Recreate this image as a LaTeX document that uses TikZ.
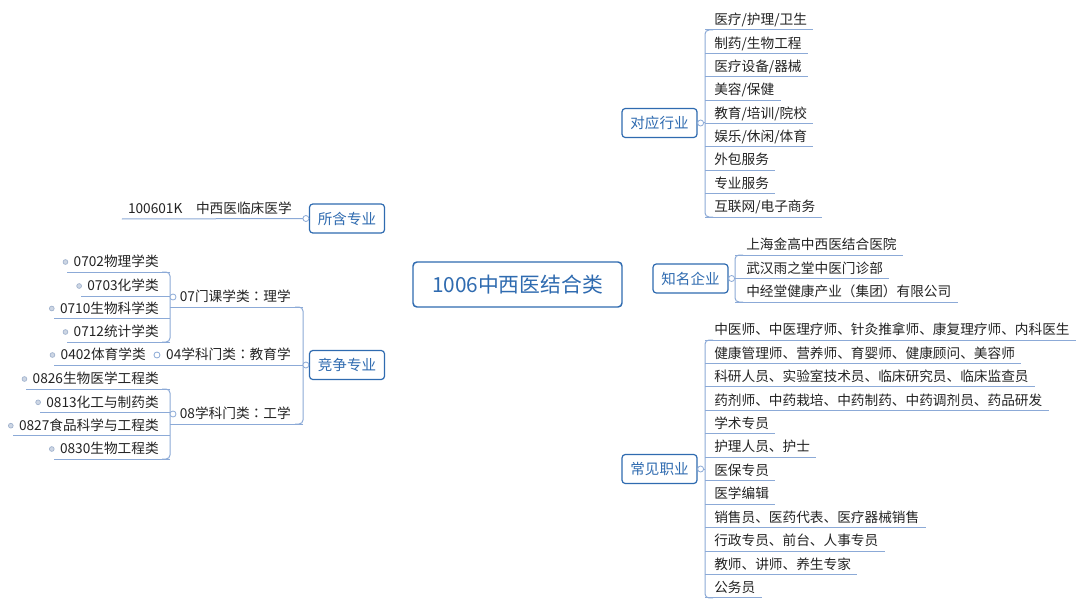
\documentclass[tikz,border=0pt]{standalone}
\usepackage{fontspec}
\setmainfont{Noto Sans CJK SC}
\newfontfamily\tcfont{Noto Sans CJK TC}
\newcommand{\ccolon}{{\tcfont ：}}
\usetikzlibrary{backgrounds,calc}
\definecolor{cblue}{RGB}{47,107,176}
\definecolor{curveblue}{RGB}{95,145,200}
\definecolor{subblue}{RGB}{140,170,215}
\definecolor{leaftext}{RGB}{35,35,35}
\definecolor{bulletfill}{RGB}{205,214,228}
\definecolor{bulletdraw}{RGB}{160,178,205}
\tikzset{
 central/.style={draw=cblue, line width=1.1pt, rounded corners=3pt, fill=white, text=cblue, minimum width=156.75pt, minimum height=33.75pt, font=\fontsize{15.6pt}{18pt}\selectfont, inner sep=0pt},
 branch/.style={draw=cblue, line width=0.9pt, rounded corners=2.5pt, fill=white, text=cblue, minimum width=56.25pt, minimum height=21.75pt, font=\fontsize{10.9pt}{13pt}\selectfont, inner sep=0pt},
 leaf/.style={inner xsep=4.5pt, inner ysep=0pt, text height=7.5pt, text depth=3.75pt, text=leaftext, font=\fontsize{10.25pt}{12pt}\selectfont},
 leafR/.style={leaf, anchor=south west},
 leafL/.style={leaf, anchor=south east},
 conn/.style={draw=subblue, line width=0.75pt},
 maincurve/.style={draw=curveblue, line width=1.1pt},
 knob/.style={circle, draw=subblue, fill=white, line width=0.6pt, minimum size=4.5pt, inner sep=0pt},
 dotbullet/.style={circle, draw=bulletdraw, fill=bulletfill, line width=0.5pt, minimum size=3.6pt, inner sep=0pt},
}
\begin{document}
\begin{tikzpicture}[x=0.75pt,y=-0.75pt]
\fill[white] (0,0) rectangle (1080,606);
\useasboundingbox (0,0) rectangle (1080,606);

% central and branch topics
\node[central] (c) at (517.5,284.5) {1006中西医结合类};
\node[branch] (dy) at (659.5,123) {对应行业};
\node[branch] (zm) at (690.5,278.5) {知名企业};
\node[branch] (cj) at (659.5,469) {常见职业};
\node[branch] (sh) at (347,218.5) {所含专业};
\node[branch] (jz) at (347,365) {竞争专业};

\begin{scope}[on background layer]
\draw[maincurve] (c.center) .. controls (575,180) and (570,123) .. (dy.west);
\draw[maincurve] (c.center) .. controls (575,389) and (570,469) .. (cj.west);
\draw[maincurve] (c.center) -- (zm.west);
\draw[maincurve] (c.center) .. controls (430,245) and (420,218.5) .. (sh.east);
\draw[maincurve] (c.center) .. controls (430,324) and (420,365) .. (jz.east);
\end{scope}

% ---------- 对应行业 ----------
\coordinate (vdy) at (705,0);
\node[leafR] (d1) at (708,30) {医疗/护理/卫生};
\node[leafR] (d2) at (708,53.4) {制药/生物工程};
\node[leafR] (d3) at (708,76.75) {医疗设备/器械};
\node[leafR] (d4) at (708,100.1) {美容/保健};
\node[leafR] (d5) at (708,123.5) {教育/培训/院校};
\node[leafR] (d6) at (708,146.9) {娱乐/休闲/体育};
\node[leafR] (d7) at (708,170.25) {外包服务};
\node[leafR] (d8) at (708,193.6) {专业服务};
\node[leafR] (d9) at (708,217) {互联网/电子商务};
\foreach \i in {1,...,9} \draw[conn] (vdy|-d\i.south) -- (d\i.south east);
\draw[conn, rounded corners=3pt] ($(vdy|-d1.south)+(8,0)$) -- (vdy|-d1.south) -- (vdy|-d9.south) -- ($(vdy|-d9.south)+(8,0)$);
\draw[conn] (dy.east) -- (vdy|-dy.east);
\node[knob] (kdy) at ($(dy.east)+(3,0)$) {};

% ---------- 知名企业 ----------
\coordinate (vzm) at (735,0);
\node[leafR] (e1) at (740,255) {上海金高中西医结合医院};
\node[leafR] (e2) at (740,278.5) {武汉雨之堂中医门诊部};
\node[leafR] (e3) at (740,302) {中经堂健康产业（集团）有限公司};
\foreach \i in {1,...,3} \draw[conn] (vzm|-e\i.south) -- (e\i.south east);
\draw[conn, rounded corners=3pt] ($(vzm|-e1.south)+(8,0)$) -- (vzm|-e1.south) -- (vzm|-e3.south) -- ($(vzm|-e3.south)+(8,0)$);
\draw[conn] (zm.east) -- (vzm|-zm.east);
\node[knob] (kzm) at ($(zm.east)+(3,0)$) {};

% ---------- 常见职业 ----------
\coordinate (vcj) at (705,0);
\node[leafR] (f1) at (708,340) {中医师、中医理疗师、针灸推拿师、康复理疗师、内科医生};
\node[leafR] (f2) at (708,363.45) {健康管理师、营养师、育婴师、健康顾问、美容师};
\node[leafR] (f3) at (708,386.9) {科研人员、实验室技术员、临床研究员、临床监查员};
\node[leafR] (f4) at (708,410.35) {药剂师、中药栽培、中药制药、中药调剂员、药品研发};
\node[leafR] (f5) at (708,433.8) {学术专员};
\node[leafR] (f6) at (708,457.25) {护理人员、护士};
\node[leafR] (f7) at (708,480.7) {医保专员};
\node[leafR] (f8) at (708,504.15) {医学编辑};
\node[leafR] (f9) at (708,527.6) {销售员、医药代表、医疗器械销售};
\node[leafR] (f10) at (708,551.05) {行政专员、前台、人事专员};
\node[leafR] (f11) at (708,574.5) {教师、讲师、养生专家};
\node[leafR] (f12) at (708,597.95) {公务员};
\foreach \i in {1,...,12} \draw[conn] (vcj|-f\i.south) -- (f\i.south east);
\draw[conn, rounded corners=3pt] ($(vcj|-f1.south)+(8,0)$) -- (vcj|-f1.south) -- (vcj|-f12.south) -- ($(vcj|-f12.south)+(8,0)$);
\draw[conn] (cj.east) -- (vcj|-cj.east);
\node[knob] (kcj) at ($(cj.east)+(3,0)$) {};

% ---------- 所含专业 ----------
\node[leafL] (h1) at (298,219) {100601K\quad 中西医临床医学};
\draw[conn] (sh.west) -- (h1.south west);
\node[knob] (ksh) at ($(sh.west)+(-3,0)$) {};

% ---------- 竞争专业 ----------
\coordinate (vjz) at (303,0);
\coordinate (vsub) at (170,0);
\node[leafL] (s07) at (297,307) {07门课学类\ccolon 理学};
\node[leafL] (s04) at (297,365) {04学科门类\ccolon 教育学};
\node[leafL] (s08) at (297,424) {08学科门类\ccolon 工学};

\node[leafL] (a1) at (165,272) {0702物理学类};
\node[leafL] (a2) at (165,296) {0703化学类};
\node[leafL] (a3) at (165,318.5) {0710生物科学类};
\node[leafL] (a4) at (165,342) {0712统计学类};
\node[leafL] (a5) at (152,365) {0402体育学类};
\node[leafL] (b1) at (165,389) {0826生物医学工程类};
\node[leafL] (b2) at (165,412.3) {0813化工与制药类};
\node[leafL] (b3) at (165,435.7) {0827食品科学与工程类};
\node[leafL] (b4) at (165,459) {0830生物工程类};

\foreach \i in {1,...,4} {
  \draw[conn] (vsub|-a\i.south) -- (a\i.south west);
  \draw[conn] (vsub|-b\i.south) -- (b\i.south west);
}
\draw[conn, rounded corners=3pt] ($(vsub|-a1.south)+(-8,0)$) -- (vsub|-a1.south) -- (vsub|-a4.south) -- ($(vsub|-a4.south)+(-8,0)$);
\draw[conn, rounded corners=3pt] ($(vsub|-b1.south)+(-8,0)$) -- (vsub|-b1.south) -- (vsub|-b4.south) -- ($(vsub|-b4.south)+(-8,0)$);
\draw[conn] (vjz|-s07.south) -- (vsub|-s07.south);
\draw[conn] (vjz|-s08.south) -- (vsub|-s08.south);
\draw[conn] (vjz|-s04.south) -- (a5.south west);
\draw[conn, rounded corners=3pt] ($(vjz|-s07.south)+(-8,0)$) -- (vjz|-s07.south) -- (vjz|-s08.south) -- ($(vjz|-s08.south)+(-8,0)$);
\draw[conn] (jz.west) -- (vjz|-jz.west);
\node[knob] (kjz) at ($(jz.west)+(-3,0)$) {};
\node[knob] (k07) at ($(vsub|-s07.south)+(3,-10)$) {};
\node[knob] (k04) at ($(s04.south west)+(-3,-10)$) {};
\node[knob] (k08) at ($(vsub|-s08.south)+(3,-10)$) {};

\foreach \n in {a1,a2,a3,a4,a5,b1,b2,b3,b4}
  \node[dotbullet] (bu\n) at ([xshift=-1.5pt,yshift=7.5pt]\n.south west) {};
\end{tikzpicture}
\end{document}
